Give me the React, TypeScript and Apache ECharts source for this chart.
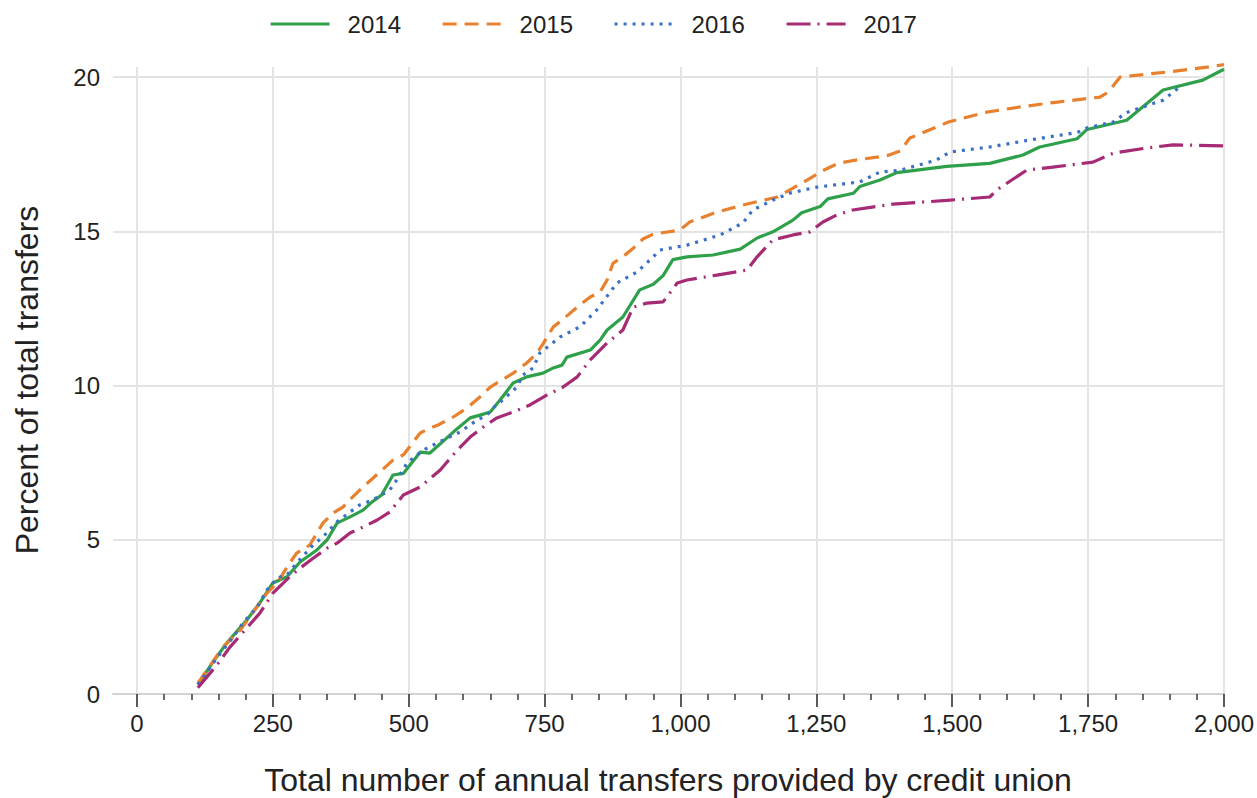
import React, { useEffect, useRef } from "react";
import * as echarts from "echarts";

const seriesNames = ["2014", "2015", "2016", "2017"];

const data2014: [number, number][] = [
  [112, 0.3], [140, 1.04], [165, 1.65], [202, 2.4], [226, 2.95], [250, 3.6], [276, 3.8], [300, 4.28],
  [331, 4.67], [350, 5.0], [368, 5.54], [392, 5.74], [416, 5.96], [432, 6.22], [450, 6.45], [471, 7.1],
  [490, 7.15], [521, 7.84], [539, 7.81], [582, 8.49], [613, 8.95], [631, 9.04], [650, 9.14], [668, 9.53],
  [692, 10.08], [717, 10.28], [747, 10.4], [766, 10.57], [782, 10.66], [791, 10.92], [834, 11.15],
  [852, 11.47], [865, 11.8], [894, 12.22], [925, 13.1], [950, 13.28], [968, 13.56], [986, 14.08],
  [1012, 14.17], [1060, 14.23], [1110, 14.42], [1141, 14.78], [1170, 14.98], [1207, 15.36], [1223, 15.6],
  [1257, 15.8], [1271, 16.05], [1318, 16.23], [1330, 16.45], [1367, 16.66], [1398, 16.9], [1490, 17.1],
  [1569, 17.2], [1630, 17.47], [1661, 17.73], [1730, 18.0], [1748, 18.3], [1821, 18.6], [1888, 19.58],
  [1961, 19.9], [2000, 20.25],
];

const data2015: [number, number][] = [
  [112, 0.35], [158, 1.52], [190, 2.07], [239, 3.27], [258, 3.6], [281, 4.25], [294, 4.57], [318, 4.83],
  [342, 5.54], [361, 5.87], [379, 6.06], [397, 6.39], [416, 6.71], [447, 7.2], [471, 7.58], [490, 7.75],
  [521, 8.46], [539, 8.62], [554, 8.72], [582, 8.98], [607, 9.27], [631, 9.63], [650, 9.95], [692, 10.4],
  [717, 10.73], [736, 11.05], [747, 11.35], [766, 11.9], [778, 12.06], [810, 12.54], [834, 12.87],
  [852, 13.03], [865, 13.42], [876, 13.97], [894, 14.17], [913, 14.45], [931, 14.75], [949, 14.9],
  [999, 15.04], [1017, 15.3], [1067, 15.62], [1115, 15.85], [1178, 16.11], [1207, 16.4], [1233, 16.66],
  [1260, 16.95], [1290, 17.2], [1320, 17.3], [1380, 17.45], [1404, 17.6], [1422, 18.02], [1493, 18.54],
  [1560, 18.85], [1625, 19.03], [1690, 19.18], [1772, 19.35], [1787, 19.51], [1809, 20.0], [1895, 20.16],
  [1969, 20.32], [2000, 20.4],
];

const data2016: [number, number][] = [
  [112, 0.3], [147, 1.17], [177, 1.85], [195, 2.3], [221, 2.82], [239, 3.37], [258, 3.76], [276, 3.86],
  [294, 4.25], [324, 4.83], [342, 5.09], [368, 5.58], [392, 5.9], [410, 6.13], [434, 6.29], [465, 6.61],
  [478, 6.94], [497, 7.49], [526, 7.9], [545, 8.07], [563, 8.23], [594, 8.49], [626, 8.88], [644, 9.04],
  [655, 9.27], [673, 9.53], [699, 9.95], [710, 10.34], [729, 10.57], [741, 11.05], [760, 11.31],
  [778, 11.57], [815, 11.9], [846, 12.45], [883, 13.32], [920, 13.68], [950, 14.17], [962, 14.39],
  [1012, 14.55], [1073, 14.88], [1115, 15.27], [1133, 15.69], [1170, 16.01], [1202, 16.24], [1251, 16.43],
  [1330, 16.6], [1367, 16.92], [1404, 16.98], [1470, 17.3], [1496, 17.57], [1569, 17.73], [1643, 17.96],
  [1730, 18.2], [1748, 18.35], [1796, 18.54], [1821, 18.85], [1888, 19.25], [1920, 19.7],
];

const data2017: [number, number][] = [
  [112, 0.2], [147, 0.94], [171, 1.52], [202, 2.14], [226, 2.62], [250, 3.27], [281, 3.8], [300, 4.08],
  [324, 4.4], [350, 4.73], [368, 4.89], [392, 5.22], [416, 5.41], [442, 5.64], [465, 5.9], [490, 6.45],
  [521, 6.71], [558, 7.26], [589, 7.9], [613, 8.33], [637, 8.65], [662, 8.95], [692, 9.14], [723, 9.37],
  [754, 9.69], [784, 9.95], [810, 10.28], [834, 10.83], [865, 11.38], [894, 11.8], [913, 12.54],
  [938, 12.67], [968, 12.71], [994, 13.32], [1012, 13.42], [1067, 13.58], [1122, 13.74], [1141, 14.17],
  [1170, 14.72], [1207, 14.88], [1238, 14.98], [1262, 15.3], [1288, 15.53], [1317, 15.69], [1391, 15.88],
  [1490, 16.0], [1569, 16.11], [1582, 16.34], [1637, 16.98], [1685, 17.08], [1759, 17.24], [1796, 17.53],
  [1858, 17.7], [1906, 17.8], [2000, 17.77],
];

const seriesData = [data2014, data2015, data2016, data2017];
const colors = ["#2ea04a", "#e8802e", "#3a70c6", "#a62a74"];
const dashTypes: any[] = ["solid", [14, 8], [3, 6], [24, 7, 2, 7]];

const xTitle = "Total number of annual transfers provided by credit union";
const yTitle = "Percent of total transfers";

const FONT = "'Liberation Sans', Arial, Helvetica, sans-serif";

export default function App() {
  const ref = useRef<HTMLDivElement>(null);
  useEffect(() => {
    if (!ref.current) return;
    const chart = echarts.init(ref.current, undefined, { renderer: "svg" });
    const option: any = {
      animation: false,
      backgroundColor: "#ffffff",
      textStyle: { fontFamily: FONT },
      legend: {
        left: 264,
        top: 7,
        itemWidth: 59,
        itemHeight: 24,
        itemGap: 40,
        data: seriesNames,
        itemStyle: { opacity: 0, borderWidth: 0 },
        lineStyle: { width: 3.2 },
        textStyle: { fontSize: 24, color: "#222", fontFamily: FONT, padding: [0, 0, 0, 13] },
      },
      grid: [
        { left: 137, top: 67, width: 1087, height: 627 },
        { left: 113, top: 77, width: 1111, height: 617 },
      ],
      xAxis: [
        {
          gridIndex: 0,
          type: "value",
          min: 0,
          max: 2000,
          interval: 250,
          axisLine: { show: false },
          axisTick: { show: true, length: 13, lineStyle: { color: "#333", width: 1.6 } },
          minorTick: { show: true, splitNumber: 5, length: 6, lineStyle: { color: "#444", width: 1.6 } },
          axisLabel: {
            fontSize: 24,
            color: "#222",
            margin: 17,
            fontFamily: FONT,
            formatter: (v: number) => v.toLocaleString("en-US"),
          },
          splitLine: { show: true, lineStyle: { color: "#e4e4e4", width: 2 } },
        },
        {
          gridIndex: 1,
          type: "value",
          min: 0,
          max: 1,
          axisLine: { show: true, lineStyle: { color: "#d2d2d2", width: 2 } },
          axisTick: { show: false },
          axisLabel: { show: false },
          splitLine: { show: false },
        },
      ],
      yAxis: [
        {
          gridIndex: 0,
          type: "value",
          min: 0,
          max: 20.324,
          show: false,
          splitLine: { show: false },
        },
        {
          gridIndex: 1,
          type: "value",
          min: 0,
          max: 20,
          interval: 5,
          axisLine: { show: false },
          axisTick: { show: false },
          axisLabel: { fontSize: 24, color: "#222", margin: 13, fontFamily: FONT },
          splitLine: { show: true, lineStyle: { color: "#e4e4e4", width: 2 } },
        },
      ],
      series: seriesNames.map((name, i) => ({
        name,
        type: "line",
        xAxisIndex: 0,
        yAxisIndex: 0,
        data: seriesData[i],
        symbol: "none",
        showSymbol: false,
        clip: false,
        color: colors[i],
        lineStyle: { color: colors[i], width: 3.2, type: dashTypes[i] },
        z: 3 + i,
      })),
      graphic: [
        {
          type: "text",
          x: 668,
          y: 780,
          style: {
            text: xTitle,
            fontSize: 32,
            fontFamily: FONT,
            fill: "#222",
            align: "center",
            verticalAlign: "middle",
          },
        },
        {
          type: "text",
          x: 27,
          y: 380,
          rotation: Math.PI / 2,
          style: {
            text: yTitle,
            fontSize: 32,
            fontFamily: FONT,
            fill: "#222",
            align: "center",
            verticalAlign: "middle",
          },
        },
      ],
    };
    chart.setOption(option);
    return () => chart.dispose();
  }, []);
  return (
    <div
      ref={ref}
      style={{ position: "fixed", left: 0, top: 0, width: 1257, height: 798, background: "#fff" }}
    />
  );
}
